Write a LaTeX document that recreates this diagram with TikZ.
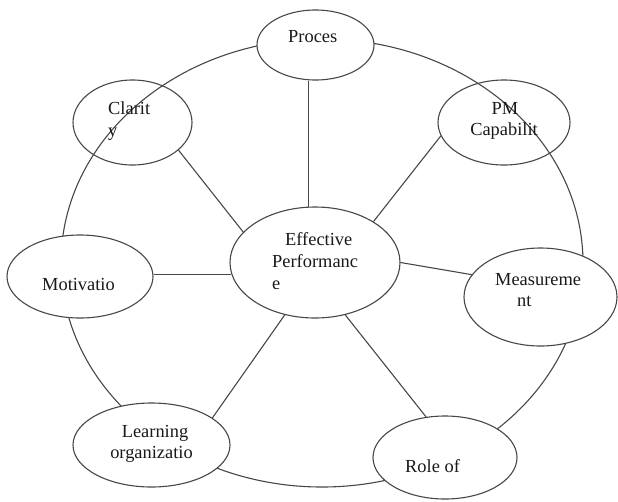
\documentclass[tikz,border=0pt]{standalone}
\usepackage{fontspec}
\setmainfont{Liberation Serif}
\usetikzlibrary{shapes.geometric}
\begin{document}
\begin{tikzpicture}[x=1pt,y=-1pt,
  lin/.style={draw=black!72, line width=1.1pt},
  bub/.style={ellipse, lin, inner sep=0pt, fill=white},
  hollow/.style={ellipse, lin, inner sep=0pt},
  lbl/.style={anchor=base west, inner sep=0pt, font=\fontsize{18.4}{22}\selectfont, text=black!90}]
\useasboundingbox (0,0) rectangle (618,501);
% outer ring
\draw[lin] (322,263) ellipse [x radius=261, y radius=224];
% ellipses
\node[bub, minimum width=117pt, minimum height=70pt] (proc) at (315.5,45) {};
\node[hollow, minimum width=119pt, minimum height=85pt] (clar) at (132.5,122.5) {};
\node[hollow, minimum width=132pt, minimum height=85pt] (pm) at (504,122.5) {};
\node[bub, minimum width=170pt, minimum height=111pt] (eff) at (315,262.5) {};
\node[bub, minimum width=146pt, minimum height=83pt] (mot) at (80,276.5) {};
\node[bub, minimum width=153pt, minimum height=98pt] (meas) at (540.5,297) {};
\node[bub, minimum width=157pt, minimum height=84pt] (learn) at (151.5,445) {};
\node[bub, minimum width=144pt, minimum height=83pt] (role) at (445,457.5) {};
% connectors
\draw[lin] (eff.97) -- (eff.97 |- proc.south);
\draw[lin] (clar.-31) -- (eff.157);
\draw[lin] (pm.192) -- (eff.35);
\draw[lin] (eff.188) -- (eff.188 -| mot.east);
\draw[lin] (eff.0) -- (meas.162);
\draw[lin] (eff.240) -- (learn.24);
\draw[lin] (eff.300) -- (role.115);
% texts
\node[lbl] (tproc) at (288,42.7) {Proces};
\node[lbl] (tclar1) at (108,114) {Clarit};
\node[lbl] (tclar2) at (108,136) {y};
\node[lbl, anchor=base] (tpm1) at (505,114) {PM};
\node[lbl, anchor=base] (tpm2) at (504,135) {Capabilit};
\node[lbl] (tmot) at (42,290) {Motivatio};
\node[lbl] (teff1) at (285,245) {Effective};
\node[lbl] (teff2) at (272,267) {Performanc};
\node[lbl] (teff3) at (272,289) {e};
\node[lbl] (tmeas1) at (495,285) {Measureme};
\node[lbl] (tmeas2) at (517,306.7) {nt};
\node[lbl, anchor=base] (tlearn1) at (155,437) {Learning};
\node[lbl, anchor=base] (tlearn2) at (151.5,458.5) {organizatio};
\node[lbl] (trole) at (405,472.7) {Role of};
\end{tikzpicture}
\end{document}
